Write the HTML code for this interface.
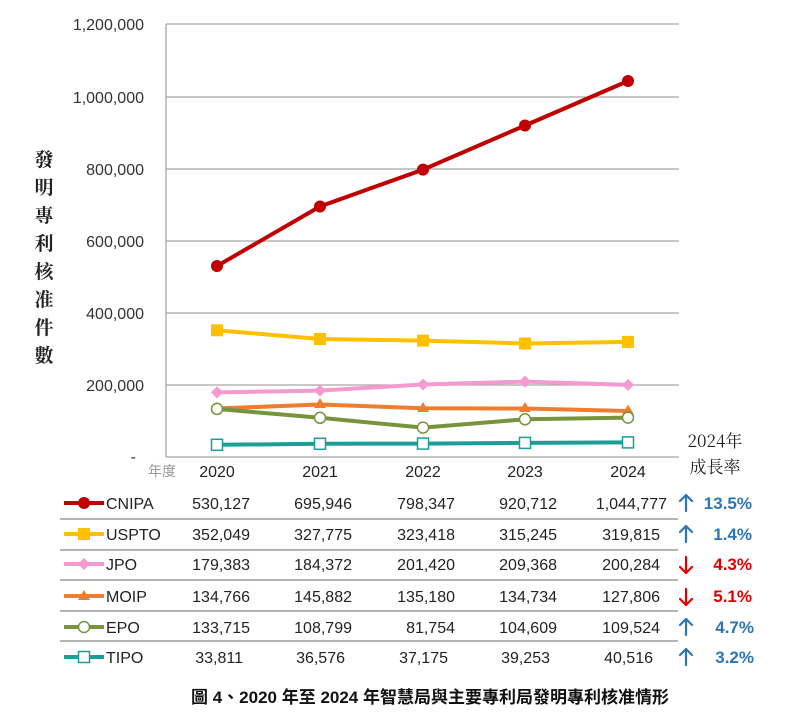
<!DOCTYPE html>
<html><head><meta charset="utf-8"><style>
html,body{margin:0;padding:0;background:#fff;}
svg{display:block;}
text{font-family:"Liberation Sans","Noto Sans CJK TC",sans-serif;}
</style></head><body>
<svg width="793" height="726" viewBox="0 0 793 726" xmlns="http://www.w3.org/2000/svg">
<g stroke="#a6a6a6" stroke-width="1.3" fill="none">
<line x1="166" y1="24" x2="679" y2="24"/>
<line x1="166" y1="97" x2="679" y2="97"/>
<line x1="166" y1="169" x2="679" y2="169"/>
<line x1="166" y1="241" x2="679" y2="241"/>
<line x1="166" y1="313" x2="679" y2="313"/>
<line x1="166" y1="385" x2="679" y2="385"/>
<line x1="166" y1="24" x2="166" y2="457"/>
<line x1="166" y1="457" x2="679" y2="457"/>
</g>
<g font-size="16" fill="#333" text-anchor="end">
<text x="144" y="30">1,200,000</text>
<text x="144" y="103">1,000,000</text>
<text x="144" y="175">800,000</text>
<text x="144" y="247">600,000</text>
<text x="144" y="319">400,000</text>
<text x="144" y="391">200,000</text>
<text x="136" y="462">-</text>
</g>
<g font-size="19" fill="#222" text-anchor="middle" font-weight="bold">
<text x="44" y="166" style="font-family:'Noto Serif CJK SC',serif">發</text>
<text x="44" y="194" style="font-family:'Noto Serif CJK SC',serif">明</text>
<text x="44" y="222" style="font-family:'Noto Serif CJK SC',serif">專</text>
<text x="44" y="250" style="font-family:'Noto Serif CJK SC',serif">利</text>
<text x="44" y="278" style="font-family:'Noto Serif CJK SC',serif">核</text>
<text x="44" y="306" style="font-family:'Noto Serif CJK SC',serif">准</text>
<text x="44" y="334" style="font-family:'Noto Serif CJK SC',serif">件</text>
<text x="44" y="362" style="font-family:'Noto Serif CJK SC',serif">數</text>
</g>
<polyline points="217,266 320,206.5 423,169.6 525,125.5 628,81" fill="none" stroke="#c00000" stroke-width="4"/>
<g fill="#c00000"><circle cx="217" cy="266" r="6"/><circle cx="320" cy="206.5" r="6"/><circle cx="423" cy="169.6" r="6"/><circle cx="525" cy="125.5" r="6"/><circle cx="628" cy="81" r="6"/></g>
<polyline points="217,330.3 320,339 423,340.6 525,343.5 628,341.9" fill="none" stroke="#ffc000" stroke-width="4"/>
<g fill="#ffc000"><rect x="211" y="324.3" width="12" height="12"/><rect x="314" y="333" width="12" height="12"/><rect x="417" y="334.6" width="12" height="12"/><rect x="519" y="337.5" width="12" height="12"/><rect x="622" y="335.9" width="12" height="12"/></g>
<polyline points="217,392.4 320,390.6 423,384.5 525,381.6 628,384.9" fill="none" stroke="#f49ad0" stroke-width="4"/>
<g fill="#f49ad0"><path d="M217 386.4l6 6-6 6-6-6z"/><path d="M320 384.6l6 6-6 6-6-6z"/><path d="M423 378.5l6 6-6 6-6-6z"/><path d="M525 375.6l6 6-6 6-6-6z"/><path d="M628 378.9l6 6-6 6-6-6z"/></g>
<polyline points="217,408.5 320,404.5 423,408.3 525,408.5 628,411" fill="none" stroke="#ed7d31" stroke-width="4"/>
<g fill="#ed7d31"><path d="M217 402l6 10h-12z"/><path d="M320 398l6 10h-12z"/><path d="M423 402l6 10h-12z"/><path d="M525 402l6 10h-12z"/><path d="M628 404.5l6 10h-12z"/></g>
<polyline points="217,408.9 320,417.8 423,427.6 525,419.3 628,417.6" fill="none" stroke="#77933c" stroke-width="4"/>
<g fill="#fff" stroke="#77933c" stroke-width="1.5"><circle cx="217" cy="408.9" r="5.5"/><circle cx="320" cy="417.8" r="5.5"/><circle cx="423" cy="427.6" r="5.5"/><circle cx="525" cy="419.3" r="5.5"/><circle cx="628" cy="417.6" r="5.5"/></g>
<polyline points="217,444.8 320,443.8 423,443.6 525,442.9 628,442.4" fill="none" stroke="#1a9e96" stroke-width="4"/>
<g fill="#fff" stroke="#1a9e96" stroke-width="1.5"><rect x="211.5" y="439.3" width="11" height="11"/><rect x="314.5" y="438.3" width="11" height="11"/><rect x="417.5" y="438.1" width="11" height="11"/><rect x="519.5" y="437.4" width="11" height="11"/><rect x="622.5" y="436.9" width="11" height="11"/></g>
<text x="162" y="476" font-size="14" fill="#999" text-anchor="middle">年度</text>
<g font-size="16" fill="#222" text-anchor="middle">
<text x="217" y="477">2020</text><text x="320" y="477">2021</text><text x="423" y="477">2022</text><text x="525" y="477">2023</text><text x="628" y="477">2024</text>
</g>
<text x="715" y="447" font-size="17" fill="#222" text-anchor="middle" style="font-family:'Noto Serif CJK SC',serif">2024年</text>
<text x="715" y="473" font-size="17" fill="#222" text-anchor="middle" style="font-family:'Noto Serif CJK SC',serif">成長率</text>
<g stroke="#888" stroke-width="1.3">
<line x1="60" y1="519" x2="678" y2="519"/>
<line x1="60" y1="550" x2="678" y2="550"/>
<line x1="60" y1="580" x2="678" y2="580"/>
<line x1="60" y1="611" x2="678" y2="611"/>
<line x1="60" y1="641" x2="678" y2="641"/>
</g>
<line x1="64" y1="503" x2="104" y2="503" stroke="#c00000" stroke-width="4"/><circle cx="84" cy="503" r="6" fill="#c00000"/>
<line x1="64" y1="534" x2="104" y2="534" stroke="#ffc000" stroke-width="4"/><rect x="78" y="528" width="12" height="12" fill="#ffc000"/>
<line x1="64" y1="564" x2="104" y2="564" stroke="#f49ad0" stroke-width="4"/><path d="M84 558l6 6-6 6-6-6z" fill="#f49ad0"/>
<line x1="64" y1="596" x2="104" y2="596" stroke="#ed7d31" stroke-width="4"/><path d="M84 590l6 10h-12z" fill="#ed7d31"/>
<line x1="64" y1="627" x2="104" y2="627" stroke="#77933c" stroke-width="4"/><circle cx="84" cy="627" r="5.5" fill="#fff" stroke="#77933c" stroke-width="1.5"/>
<line x1="64" y1="657" x2="104" y2="657" stroke="#1a9e96" stroke-width="4"/><rect x="78.5" y="651.5" width="11" height="11" fill="#fff" stroke="#1a9e96" stroke-width="1.5"/>
<g font-size="16" fill="#222">
<text x="106" y="509">CNIPA</text><text x="106" y="540">USPTO</text><text x="106" y="570">JPO</text><text x="106" y="602">MOIP</text><text x="106" y="633">EPO</text><text x="106" y="663">TIPO</text>
</g>
<g font-size="16" fill="#222" text-anchor="end">
<text x="250" y="509">530,127</text><text x="352" y="509">695,946</text><text x="455" y="509">798,347</text><text x="557" y="509">920,712</text><text x="667" y="509">1,044,777</text>
<text x="250" y="540">352,049</text><text x="352" y="540">327,775</text><text x="455" y="540">323,418</text><text x="557" y="540">315,245</text><text x="660" y="540">319,815</text>
<text x="250" y="570">179,383</text><text x="352" y="570">184,372</text><text x="455" y="570">201,420</text><text x="557" y="570">209,368</text><text x="660" y="570">200,284</text>
<text x="250" y="602">134,766</text><text x="352" y="602">145,882</text><text x="455" y="602">135,180</text><text x="557" y="602">134,734</text><text x="660" y="602">127,806</text>
<text x="250" y="633">133,715</text><text x="352" y="633">108,799</text><text x="455" y="633">81,754</text><text x="557" y="633">104,609</text><text x="660" y="633">109,524</text>
<text x="243" y="663">33,811</text><text x="345" y="663">36,576</text><text x="448" y="663">37,175</text><text x="550" y="663">39,253</text><text x="653" y="663">40,516</text>
</g>
<g stroke-width="2.2" fill="none" stroke-linecap="round" stroke-linejoin="round">
<g stroke="#2e75b6"><path d="M686 511v-16M680 501l6-6 6 6"/><path d="M686 542v-16M680 532l6-6 6 6"/><path d="M686 635v-16M680 625l6-6 6 6"/><path d="M686 665v-16M680 655l6-6 6 6"/></g>
<g stroke="#e00000"><path d="M686 557v16M680 567l6 6 6-6"/><path d="M686 589v16M680 599l6 6 6-6"/></g>
</g>
<g font-size="17" font-weight="bold" text-anchor="end">
<text x="752" y="509" fill="#2e75b6">13.5%</text>
<text x="752" y="540" fill="#2e75b6">1.4%</text>
<text x="752" y="570" fill="#e00000">4.3%</text>
<text x="752" y="602" fill="#e00000">5.1%</text>
<text x="754" y="633" fill="#2e75b6">4.7%</text>
<text x="754" y="663" fill="#2e75b6">3.2%</text>
</g>
<text x="430" y="703" font-size="17" font-weight="bold" fill="#111" text-anchor="middle">圖 4、2020 年至 2024 年智慧局與主要專利局發明專利核准情形</text>
</svg>
</body></html>
